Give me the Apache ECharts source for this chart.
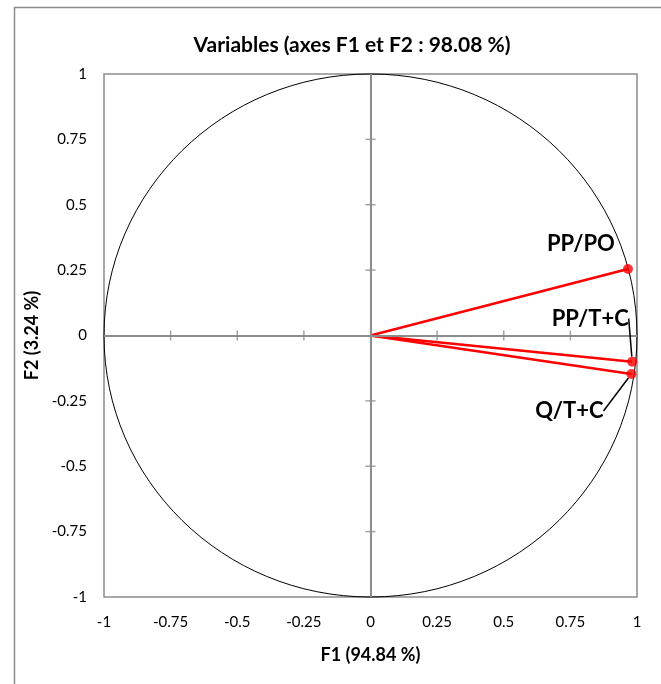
<!DOCTYPE html>
<html><head><meta charset="utf-8">
<script src="https://cdn.jsdelivr.net/npm/echarts@6/dist/echarts.min.js"></script>
<style>html,body{margin:0;padding:0;background:#fff}#c{width:661px;height:684px}</style>
</head><body><div id="c"></div>
<script>
const variables = ['PP/PO', 'PP/T+C', 'Q/T+C'];
const f1 = [0.966, 0.982, 0.979];
const f2 = [0.254, -0.100, -0.147];
const tickValues = [-0.75, -0.5, -0.25, 0.25, 0.5, 0.75];
const labelOffsets = [[-47, -25], [-42, -43], [-62, 37]];
const leader = [false, true, true];

const FONT = 'Lato, "Open Sans", sans-serif';
const chart = echarts.init(document.getElementById('c'), null, {renderer: 'canvas'});

const vectorSeries = variables.map((v, i) => ({
  type: 'line', name: v, data: [[0, 0], [f1[i], f2[i]]], symbol: 'none',
  lineStyle: {color: '#ff0000', width: 2.5}, z: 4, silent: true
}));

const option = {
  backgroundColor: '#fff',
  animation: false,
  title: {
    text: 'Variables (axes F1 et F2 : 98.08 %)', left: 347, top: 30, textAlign: 'center',
    textStyle: {fontFamily: FONT, fontWeight: 'bold', fontSize: 21, color: '#000'}
  },
  graphic: [{type: 'rect', left: 12, top: 5, shape: {width: 720, height: 720},
    style: {fill: 'none', stroke: '#8c8c8c', lineWidth: 1.5}, silent: true, z: -1}],
  grid: {left: 104, right: 24, top: 74, bottom: 87, show: true, borderColor: '#8c8c8c', borderWidth: 1.5},
  xAxis: {
    type: 'value', min: -1, max: 1, interval: 0.25,
    axisLine: {show: false}, axisTick: {show: false}, splitLine: {show: false},
    axisLabel: {fontFamily: FONT, fontSize: 15, color: '#000', margin: 18},
    name: 'F1 (94.84 %)', nameLocation: 'middle', nameGap: 49,
    nameTextStyle: {fontFamily: FONT, fontWeight: 'bold', fontSize: 18, color: '#000'}
  },
  yAxis: {
    type: 'value', min: -1, max: 1, interval: 0.25,
    axisLine: {show: false}, axisTick: {show: false}, splitLine: {show: false},
    axisLabel: {fontFamily: FONT, fontSize: 15, color: '#000', margin: 17},
    name: 'F2 (3.24 %)', nameLocation: 'middle', nameGap: 63,
    nameTextStyle: {fontFamily: FONT, fontWeight: 'bold', fontSize: 18, color: '#000'}
  },
  series: [
    {
      type: 'custom', silent: true, z: 1,
      data: [[0, 0, 1]],
      renderItem: function (params, api) {
        const c = api.coord([api.value(0), api.value(1)]);
        const r = api.value(2);
        const e = api.coord([r, r]);
        return {type: 'ellipse', shape: {cx: c[0], cy: c[1], rx: e[0] - c[0], ry: c[1] - e[1]},
          style: {fill: 'none', stroke: '#000', lineWidth: 1}};
      },
      markLine: {
        silent: true, symbol: 'none', label: {show: false},
        lineStyle: {color: '#8c8c8c', width: 2, type: 'solid'},
        data: [{xAxis: 0}, {yAxis: 0}]
      }
    },
    {
      type: 'scatter', silent: true, z: 2, symbol: 'rect', symbolSize: [1.5, 10],
      itemStyle: {color: '#8c8c8c'},
      data: tickValues.map(t => [t, 0])
    },
    {
      type: 'scatter', silent: true, z: 2, symbol: 'rect', symbolSize: [10, 1.5],
      itemStyle: {color: '#8c8c8c'},
      data: tickValues.map(t => [0, t])
    },
    ...vectorSeries,
    {
      type: 'scatter', silent: true, z: 5, symbolSize: 10,
      itemStyle: {color: '#ff0000'},
      data: variables.map((v, i) => ({name: v, value: [f1[i], f2[i]], labelLine: {show: leader[i]}})),
      label: {show: true, position: 'inside', formatter: '{b}', opacity: 1,
        textBorderWidth: 0, textBorderColor: 'transparent',
        fontFamily: FONT, fontWeight: 'bold', fontSize: 22, color: '#000000'},
      labelLine: {lineStyle: {color: '#000', width: 1.5, opacity: 1}},
      labelLayout: function (p) {
        const o = labelOffsets[p.dataIndex];
        return {dx: o[0], dy: o[1]};
      }
    }
  ]
};
chart.setOption(option);
</script></body></html>
